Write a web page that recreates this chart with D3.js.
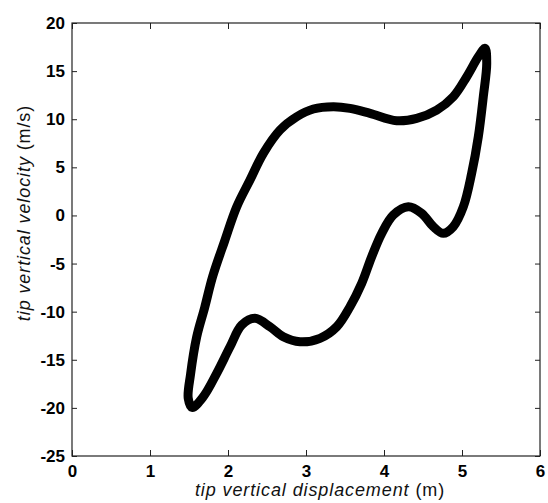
<!DOCTYPE html>
<html lang="en">
<head>
<meta charset="UTF-8">
<title>tip phase loop</title>
<style>
  body { margin: 0; background: #fff; }
  text { font-family: "Liberation Sans", Arial, sans-serif; }
</style>
</head>
<body>
<script src="https://cdn.jsdelivr.net/npm/d3@7"></script>
<script>
    // loop traced clockwise from the lowest point
    var displacement = [1.540, 1.490, 1.520, 1.599, 1.700, 1.805, 1.955, 2.112, 2.282, 2.453,
                        2.667, 2.881, 3.094, 3.350, 3.564, 3.821, 4.163, 4.419, 4.676, 4.888,
                        5.060, 5.209, 5.295, 5.317, 5.273, 5.209, 5.124, 5.017, 4.888, 4.760,
                        4.632, 4.483, 4.312, 4.119, 3.971, 3.842, 3.714, 3.564, 3.394, 3.179,
                        2.923, 2.709, 2.538, 2.346, 2.176, 2.026, 1.855, 1.683];
    var velocity     = [-19.95, -19.00, -16.50, -12.61, -9.60, -6.30, -2.70, 0.90, 3.68, 6.45,
                        8.88, 10.26, 11.06, 11.30, 11.13, 10.61, 9.84, 10.09, 10.95, 12.34,
                        14.41, 16.49, 17.37, 15.81, 12.34, 8.18, 4.38, 0.90, -1.17, -1.86,
                        -1.17, 0.22, 0.90, 0.04, -1.86, -4.29, -7.06, -9.49, -11.57, -12.77,
                        -13.13, -12.61, -11.57, -10.69, -11.39, -13.65, -16.41, -18.84];
    var xTicks = [0, 1, 2, 3, 4, 5, 6];
    var yTicks = [-25, -20, -15, -10, -5, 0, 5, 10, 15, 20];

    var data = displacement.map(function(d, i) { return [d, velocity[i]]; });

    var W = 548, H = 503;
    var margin = {top: 23, right: 8, bottom: 47, left: 72};
    var width = W - margin.left - margin.right,
        height = H - margin.top - margin.bottom;

    var x = d3.scaleLinear().domain([0, 6]).range([0, width]);
    var y = d3.scaleLinear().domain([-25, 20]).range([height, 0]);

    var svg = d3.select('body').append('svg')
        .attr('width', W)
        .attr('height', H);

    var g = svg.append('g')
        .attr('transform', `translate(${margin.left}, ${margin.top})`);

    // plain hyphen for negatives, like the original
    var plain = function(d) { return String(d); };

    function styleAxis(sel, hideText) {
        sel.select('.domain').remove();
        sel.selectAll('line').attr('stroke', '#222');
        sel.selectAll('text')
            .style('font-size', '17px')
            .style('font-weight', 'bold')
            .attr('fill', '#000');
        if (hideText) sel.selectAll('text').remove();
    }

    g.append('g')
        .attr('transform', `translate(0, ${height})`)
        .call(d3.axisBottom(x).tickValues(xTicks).tickSize(-6).tickPadding(9).tickFormat(plain))
        .call(styleAxis, false);
    g.append('g')
        .call(d3.axisTop(x).tickValues(xTicks).tickSize(-6).tickFormat(''))
        .call(styleAxis, true);
    g.append('g')
        .call(d3.axisLeft(y).tickValues(yTicks).tickSize(-5).tickPadding(7).tickFormat(plain))
        .call(styleAxis, false);
    g.append('g')
        .attr('transform', `translate(${width}, 0)`)
        .call(d3.axisRight(y).tickValues(yTicks).tickSize(-5).tickFormat(''))
        .call(styleAxis, true);

    g.append('rect')
        .attr('x', 0).attr('y', 0)
        .attr('width', width).attr('height', height)
        .attr('fill', 'none')
        .attr('stroke', '#222')
        .attr('stroke-width', 1.2);

    var line = d3.line()
        .x(function(d) { return x(d[0]); })
        .y(function(d) { return y(d[1]); })
        .curve(d3.curveCatmullRomClosed.alpha(0.5));

    g.append('path')
        .datum(data)
        .attr('d', line)
        .attr('fill', 'none')
        .attr('stroke', '#000')
        .attr('stroke-width', 9)
        .attr('stroke-linejoin', 'round');

    var xl = svg.append('text')
        .attr('x', 320)
        .attr('y', 496)
        .attr('text-anchor', 'middle')
        .style('font-size', '18px')
        .style('letter-spacing', '0.9px')
        .attr('fill', '#111');
    xl.append('tspan').style('font-style', 'italic').text('tip vertical displacement');
    xl.append('tspan').text(' (m)');

    var yl = svg.append('text')
        .attr('transform', 'translate(30, 213) rotate(-90)')
        .attr('text-anchor', 'middle')
        .style('font-size', '18px')
        .style('letter-spacing', '0.9px')
        .attr('fill', '#111');
    yl.append('tspan').style('font-style', 'italic').text('tip vertical velocity');
    yl.append('tspan').text(' (m/s)');
</script>
</body>
</html>
